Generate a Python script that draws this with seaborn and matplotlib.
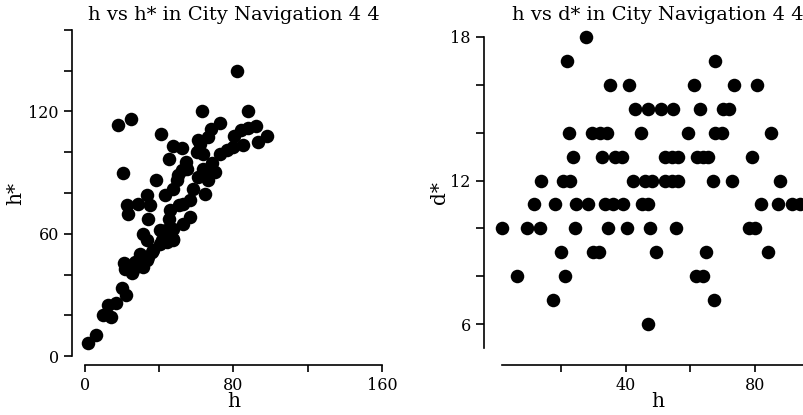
import matplotlib
matplotlib.use("Agg")
import matplotlib.pyplot as plt
import pandas as pd
import seaborn as sns

# --- h vs h* (left panel) ---
h_a = [1.8, 5.9, 9.5, 13.8, 12.6, 16.8, 19.7, 22.1, 21.5, 21.0, 24.2, 26.0, 25.1, 26.9,
       29.6, 31.4, 33.2, 34.1, 35.9, 36.8, 31.4, 33.2, 40.4, 44.0, 47.5, 41.3, 44.0, 47.2,
       40.4, 43.6, 47.6, 34.1, 45.4, 52.6, 56.5, 22.4, 23.3, 28.7, 33.2, 35.0, 43.1, 45.8,
       50.6, 52.9, 56.5, 58.3, 64.6, 20.3, 38.2, 47.6, 49.3, 50.2, 52.0, 54.7, 54.4, 45.2,
       61.0, 63.7, 66.4, 70.0, 68.2, 66.0, 63.7, 60.1, 61.9, 61.0, 47.6, 52.4, 40.9, 17.9,
       24.8, 62.8, 66.4, 67.8, 72.7, 72.7, 76.3, 79.9, 84.9, 80.2, 84.3, 87.9, 92.1, 93.3,
       98.2, 87.6, 81.7]
h_star = [6.6, 10.5, 20.0, 19.0, 25.0, 25.8, 33.5, 29.9, 42.9, 45.6, 43.8, 42.0, 40.5, 46.2,
          50.3, 43.8, 47.0, 48.7, 51.1, 51.9, 60.1, 56.8, 61.7, 58.4, 56.8, 56.8, 56.0, 57.6,
          55.2, 61.7, 62.5, 67.4, 67.4, 64.7, 68.2, 73.9, 69.9, 74.8, 78.8, 73.9, 78.8, 71.5,
          73.9, 74.8, 76.4, 82.1, 79.7, 89.8, 86.2, 82.1, 86.2, 88.7, 91.1, 91.9, 95.2, 96.8,
          87.8, 91.9, 86.2, 90.3, 94.7, 89.0, 99.3, 100.1, 104.2, 105.8, 103.3, 102.2, 109.1, 113.6,
          116.2, 120.0, 107.4, 111.5, 114.6, 98.9, 100.9, 102.5, 103.8, 108.2, 110.7, 111.8, 113.1, 105.0,
          108.2, 120.0, 139.8]

# --- h vs d* (right panel) ---
h_b = [27.6,
       22.0, 67.6,
       35.1, 41.1, 61.2, 73.5, 80.5,
       42.9, 47.0, 50.8, 54.5, 63.0, 70.2, 71.8,
       22.6, 29.5, 32.1, 34.1, 44.7, 59.4, 67.6, 69.7, 84.9,
       23.8, 32.6, 36.7, 38.8, 52.2, 54.2, 56.3, 62.0, 64.0, 65.6, 79.0,
       14.0, 20.7, 22.8, 42.4, 46.0, 48.0, 52.2, 54.2, 56.3, 67.1, 72.8, 87.7,
       11.8, 18.1, 24.8, 28.5, 33.6, 36.2, 39.3, 45.0, 47.0, 81.9, 87.0, 91.3, 93.9,
       1.9, 9.4, 13.5, 24.3, 34.4, 40.3, 47.5, 55.5, 78.0, 80.0,
       20.0, 30.0, 31.7, 49.4, 64.8, 83.9,
       6.3, 21.4, 61.7, 64.0,
       17.6, 67.4,
       47.0]
d_star = [18,
          17, 17,
          16, 16, 16, 16, 16,
          15, 15, 15, 15, 15, 15, 15,
          14, 14, 14, 14, 14, 14, 14, 14, 14,
          13, 13, 13, 13, 13, 13, 13, 13, 13, 13, 13,
          12, 12, 12, 12, 12, 12, 12, 12, 12, 12, 12, 12,
          11, 11, 11, 11, 11, 11, 11, 11, 11, 11, 11, 11, 11,
          10, 10, 10, 10, 10, 10, 10, 10, 10, 10,
          9, 9, 9, 9, 9, 9,
          8, 8, 8, 8,
          7, 7,
          6]

# tick positions and labels
hs_ticks = [0, 20, 40, 60, 80, 100, 120, 140, 160]
hs_labels = ["0", "", "", "60", "", "", "120", "", ""]
ha_ticks = [0, 40, 80, 120, 160]
ha_labels = ["0", "", "80", "", "160"]
hb_ticks = [20, 40, 60, 80]
hb_labels = ["", "40", "", "80"]
ds_ticks = [6, 8, 10, 12, 14, 16, 18]
ds_labels = ["6", "", "", "12", "", "", "18"]

df_a = pd.DataFrame({"h": h_a, "h*": h_star})
df_b = pd.DataFrame({"h": h_b, "d*": d_star})

sns.set_theme(style="ticks")
plt.rcParams["font.family"] = ["DejaVu Serif"]
plt.rcParams.update({
    "axes.edgecolor": "black",
    "axes.linewidth": 1.2,
    "xtick.color": "black",
    "ytick.color": "black",
    "xtick.major.width": 1.2,
    "ytick.major.width": 1.2,
    "xtick.major.size": 5,
    "ytick.major.size": 6,
    "xtick.labelsize": 11.5,
    "ytick.labelsize": 11.5,
    "text.color": "black",
    "axes.labelcolor": "black",
})

W, H = 804, 415
fig = plt.figure(figsize=(W / 100, H / 100), dpi=100)
fig.patch.set_facecolor("white")

ax1 = fig.add_axes([85 / W, 59 / H, 297 / W, 326 / H])
ax2 = fig.add_axes([502 / W, 67 / H, 312 / W, 311 / H])

px = 72 / 100  # pixels -> points

sns.scatterplot(data=df_a, x="h", y="h*", ax=ax1, color="black", s=95,
                linewidth=0, clip_on=False)
ax1.set_xlim(0, 160)
ax1.set_ylim(0, 160)
ax1.set_xticks(ha_ticks)
ax1.set_xticklabels(ha_labels)
ax1.set_yticks(hs_ticks)
ax1.set_yticklabels(hs_labels)
ax1.spines["left"].set_position(("outward", 13 * px))
ax1.spines["bottom"].set_position(("outward", 9 * px))
ax1.set_title("h vs h* in City Navigation 4 4", fontsize=14, pad=7)
ax1.set_xlabel("h", fontsize=14.5, labelpad=-1)
ax1.set_ylabel("h*", fontsize=14.5, labelpad=2)

sns.scatterplot(data=df_b, x="h", y="d*", ax=ax2, color="black", s=95,
                linewidth=0, clip_on=False)
ax2.set_xlim(min(h_a), max(h_a))
ax2.set_ylim(5, 18)
ax2.set_xticks(hb_ticks)
ax2.set_xticklabels(hb_labels)
ax2.set_yticks(ds_ticks)
ax2.set_yticklabels(ds_labels)
ax2.spines["left"].set_position(("outward", 18 * px))
ax2.spines["bottom"].set_position(("outward", 17 * px))
ax2.set_title("h vs d* in City Navigation 4 4", fontsize=14, pad=12)
ax2.set_xlabel("h", fontsize=14.5, labelpad=-1)
ax2.set_ylabel("d*", fontsize=14.5, labelpad=1)

for ax in (ax1, ax2):
    sns.despine(ax=ax)
    ax.set_facecolor("white")

fig.savefig("out.png", dpi=100, facecolor="white")
